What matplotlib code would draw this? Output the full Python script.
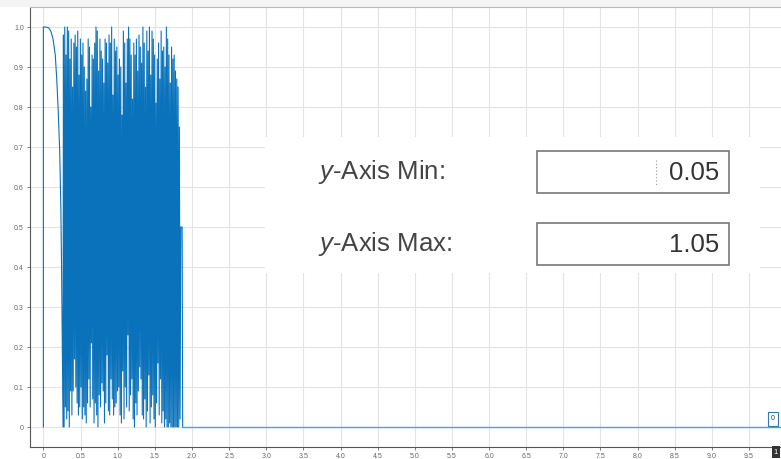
import matplotlib
matplotlib.use("Agg")
import matplotlib.pyplot as plt
import numpy as np
from matplotlib.patches import Rectangle
from matplotlib.lines import Line2D

plt.rcParams['font.family'] = ['Liberation Sans', 'DejaVu Sans']
plt.rcParams['mathtext.fontset'] = 'custom'
plt.rcParams['mathtext.it'] = 'Liberation Sans:italic'
plt.rcParams['mathtext.rm'] = 'Liberation Sans'

# start-up: step to 1, then roll-off to 0
decay_t = [0.0, 0.0, 0.03, 0.07, 0.10, 0.13, 0.16, 0.18, 0.20, 0.22, 0.235, 0.245, 0.255, 0.265]
decay_y = [0.0, 1.0, 1.0, 0.998, 0.99, 0.97, 0.93, 0.87, 0.79, 0.69, 0.55, 0.40, 0.20, 0.0]

# chaotic part, read as alternating highs / lows between t=0.27 and t=1.84
osc_start, osc_end = 0.27, 1.84
highs = [0.98, 1.00, 0.93, 1.00, 0.99, 0.92, 0.97, 0.85, 0.96, 0.98,
         0.95, 0.99, 0.88, 0.97, 0.93, 0.96, 0.90, 0.84, 0.87, 0.97,
         0.95, 0.80, 0.93, 0.92, 0.96, 1.00, 0.99, 0.89, 0.97, 0.94,
         0.92, 0.86, 0.97, 0.96, 0.91, 0.98, 0.96, 1.00, 0.83, 0.97,
         0.94, 0.95, 0.88, 0.92, 0.90, 0.78, 0.99, 0.96, 0.86, 0.97,
         1.00, 0.97, 0.93, 0.82, 0.96, 0.93, 0.97, 0.89, 0.98, 0.95,
         0.91, 1.00, 0.96, 0.85, 0.99, 0.94, 1.00, 0.88, 0.99, 0.97,
         0.93, 0.81, 0.92, 0.96, 0.87, 0.99, 0.94, 0.95, 0.90, 1.00,
         0.97, 0.93, 0.86, 0.95, 0.92, 0.93, 0.89, 0.87, 0.85, 0.75]
lows = [0.00, 0.05, 0.02, 0.04, 0.00, 0.09, 0.03, 0.09, 0.17, 0.10,
        0.06, 0.03, 0.05, 0.10, 0.02, 0.05, 0.03, 0.01, 0.06, 0.12,
        0.05, 0.21, 0.07, 0.01, 0.06, 0.03, 0.00, 0.08, 0.05, 0.11,
        0.09, 0.01, 0.06, 0.18, 0.04, 0.03, 0.12, 0.07, 0.03, 0.05,
        0.06, 0.09, 0.10, 0.03, 0.01, 0.14, 0.02, 0.10, 0.05, 0.23,
        0.04, 0.08, 0.12, 0.02, 0.00, 0.06, 0.03, 0.09, 0.15, 0.12,
        0.03, 0.02, 0.07, 0.00, 0.04, 0.13, 0.01, 0.05, 0.08, 0.02,
        0.00, 0.06, 0.16, 0.03, 0.12, 0.01, 0.04, 0.00, 0.02, 0.00,
        0.00, 0.01, 0.00, 0.00, 0.00, 0.00, 0.00, 0.00, 0.00, 0.02]

# last step and flat tail
tail_t = [1.85, 1.868, 1.875]
tail_y = [0.5, 0.5, 0.0]
flat_t = [1.875, 10.0]
flat_y = [0.0, 0.0]

osc_y = np.column_stack([highs, lows]).ravel()
osc_t = np.linspace(osc_start, osc_end, len(osc_y))

t = np.concatenate([decay_t, osc_t, tail_t])
y = np.concatenate([decay_y, osc_y, tail_y])

W, H = 781, 459
fig = plt.figure(figsize=(W / 100, H / 100), dpi=100, facecolor='white')
ax = fig.add_axes([30 / W, 12 / H, 751 / W, 440 / H])

ax.plot(t, y, color='#0a72bb', lw=0.8, zorder=3)
ax.plot(flat_t, flat_y, color='#4fa9b8', lw=1.0, zorder=3)

ax.set_xlim(-0.18, 9.93)
ax.set_ylim(-0.05, 1.05)
ax.set_xticks(np.arange(0, 10, 0.5))
ax.set_xticklabels(['0'] + ['%.1f' % v for v in np.arange(0.5, 10, 0.5)])
ax.set_yticks(np.arange(0, 1.01, 0.1))
ax.set_yticklabels(['0'] + ['%.1f' % v for v in np.arange(0.1, 1.01, 0.1)])
ax.tick_params(labelsize=5, colors='#666666', length=2.5, width=0.6, pad=2)
ax.grid(True, color='#e3e3e3', lw=0.8)
ax.set_axisbelow(True)
ax.spines['right'].set_visible(False)
ax.spines['top'].set_color('#bbbbbb')
ax.spines['left'].set_color('#555555')
ax.spines['bottom'].set_color('#555555')

# light strip above plot
fig.add_artist(Rectangle((0, 1 - 7 / H), 1, 7 / H, transform=fig.transFigure,
                         facecolor='#f4f4f4', edgecolor='none', zorder=0))

# overlay panel with the two inputs
def px(x, yy):
    return x / W, 1 - yy / H

fig.add_artist(Rectangle(px(265, 273), 495 / W, 136 / H, transform=fig.transFigure,
                         facecolor='white', edgecolor='none', zorder=10))
labels = [r'$y$-Axis Min:', r'$y$-Axis Max:']
values = ['0.05', '1.05']
rows = [172, 244]
for lab, val, ry in zip(labels, values, rows):
    fig.text(*px(318, ry), lab, fontsize=18.5, color='#444444', va='center', ha='left', zorder=11)
    fig.add_artist(Rectangle(px(537, ry + 21), 192 / W, 42 / H, transform=fig.transFigure,
                             facecolor='white', edgecolor='#777777', lw=1.2, zorder=11))
    fig.text(*px(719, ry + 1), val, fontsize=18.5, color='#333333', va='center', ha='right', zorder=12)
# text cursor
fig.add_artist(Line2D([656 / W, 656 / W], [1 - 160 / H, 1 - 186 / H], transform=fig.transFigure,
                      color='#999999', lw=0.8, ls=(0, (1, 2)), zorder=12))

# data tip and highlighted tick
fig.text(*px(773, 419), '0', fontsize=5, color='#333333', ha='center', va='center', zorder=12,
         bbox=dict(boxstyle='square,pad=0.45', facecolor='white', edgecolor='#2a7ab8', lw=0.8))
fig.text(*px(776, 452), '1', fontsize=5.5, color='white', ha='center', va='center', zorder=12,
         bbox=dict(boxstyle='square,pad=0.3', facecolor='#333333', edgecolor='none'))

fig.savefig('out.png', dpi=100, facecolor='white')
